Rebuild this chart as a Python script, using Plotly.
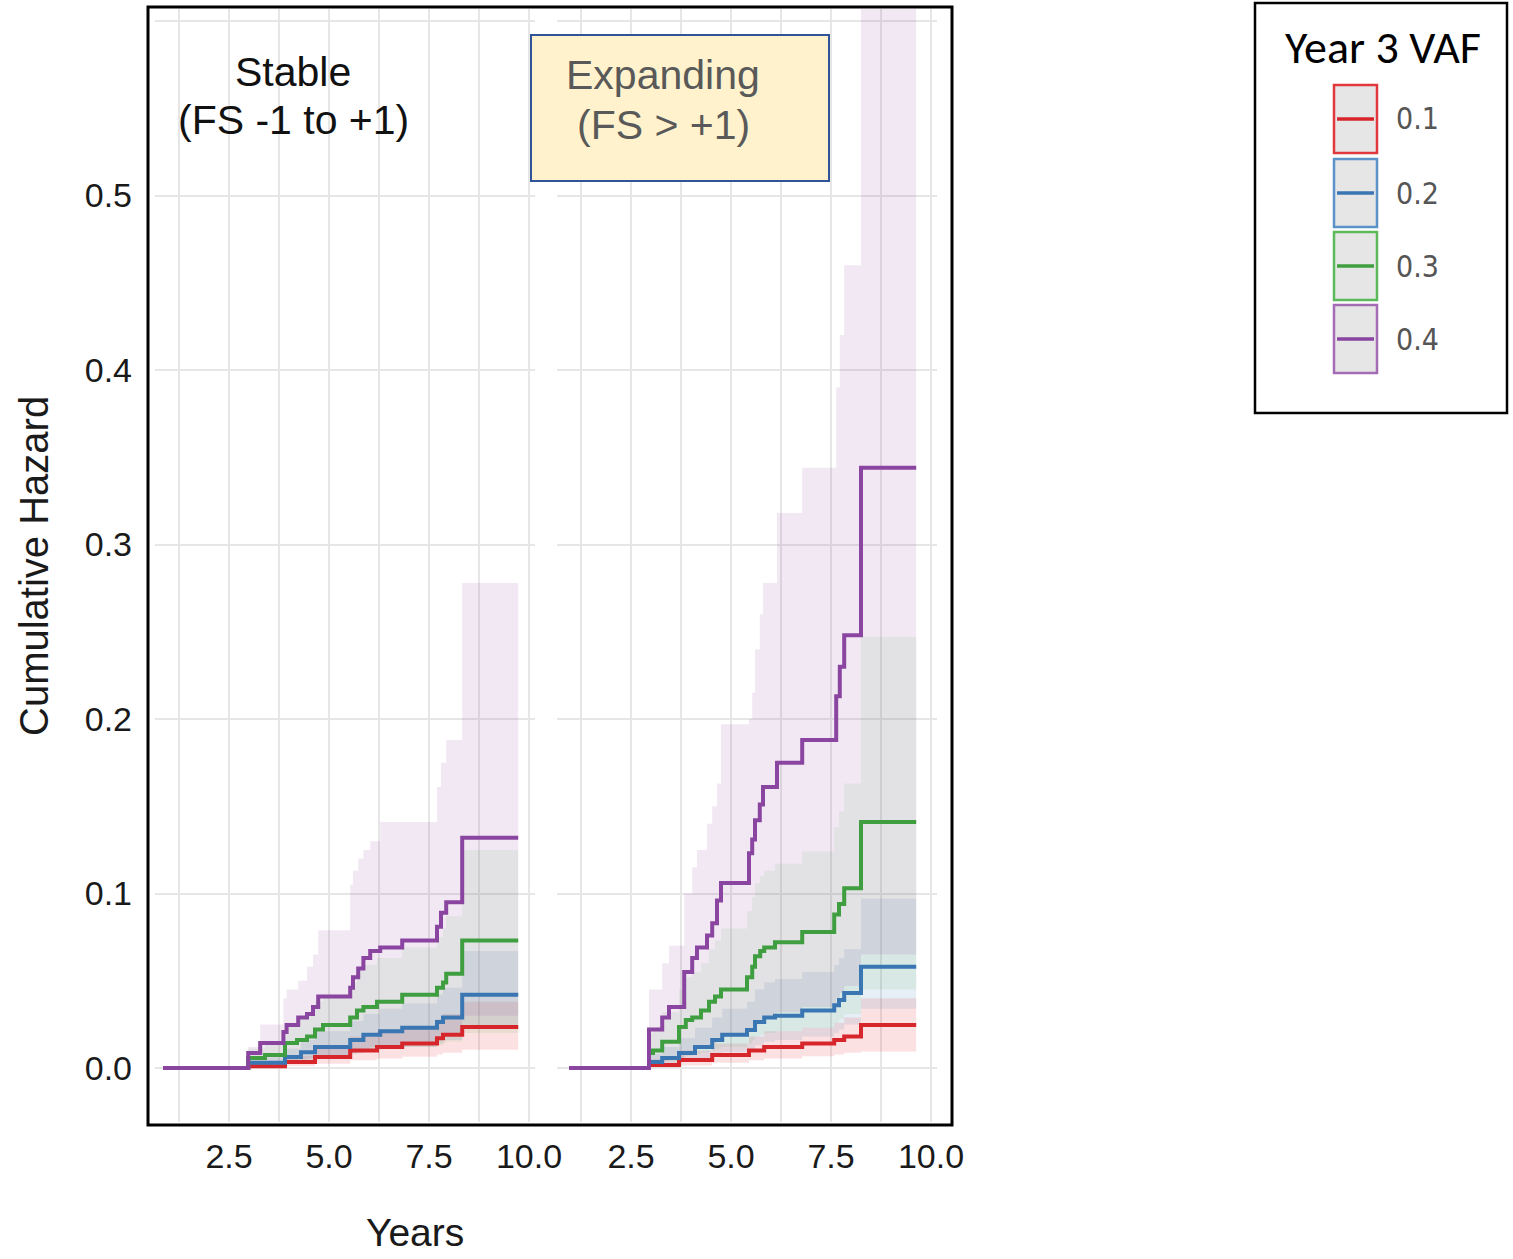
import plotly.graph_objects as go

W, H = 1513, 1259

# ---------------- data ----------------
VAF_LABELS = ["0.1", "0.2", "0.3", "0.4"]
LINE_COLORS = ["#D7262B", "#3A76B2", "#3F9E3F", "#8A45A0"]
RIBBON_COLORS = ["rgba(228,26,28,0.13)", "rgba(55,126,184,0.12)",
                 "rgba(77,175,74,0.10)", "rgba(152,78,163,0.13)"]
BORDER_COLORS = ["#E0383C", "#5B93C8", "#5DBA5A", "#A46CB5"]

PANELS = ["Stable", "Expanding"]

# Stable (FS -1 to +1)
st_t_01 = [0.85, 2.98, 3.9, 4.65, 5.53, 6.2, 6.83, 7.7, 7.85, 8.33, 9.73]
st_h_01 = [0, 0.001, 0.0034, 0.0063, 0.010, 0.012, 0.014, 0.017, 0.019, 0.0235, 0.0235]
st_u_01 = [0, 0.003, 0.007, 0.012, 0.018, 0.021, 0.024, 0.028, 0.031, 0.038, 0.038]
st_l_01 = [0, 0.0003, 0.0012, 0.0025, 0.0045, 0.0055, 0.0065, 0.0078, 0.0088, 0.0105, 0.0105]

st_t_02 = [0.85, 2.98, 3.9, 4.3, 4.65, 5.53, 5.86, 6.28, 6.83, 7.7, 7.85, 8.33, 9.73]
st_h_02 = [0, 0.003, 0.0063, 0.009, 0.012, 0.016, 0.019, 0.021, 0.023, 0.0264, 0.029, 0.042, 0.042]
st_u_02 = [0, 0.006, 0.011, 0.016, 0.021, 0.027, 0.031, 0.034, 0.037, 0.042, 0.046, 0.067, 0.067]
st_l_02 = [0, 0.0012, 0.003, 0.0045, 0.006, 0.0085, 0.01, 0.011, 0.012, 0.014, 0.016, 0.023, 0.023]

st_t_03 = [0.85, 2.98, 3.4, 3.9, 4.2, 4.45, 4.65, 4.85, 5.53, 5.7, 5.86, 6.2, 6.83, 7.7, 7.85, 7.93, 8.33, 9.73]
st_h_03 = [0, 0.0057, 0.0074, 0.0143, 0.016, 0.018, 0.022, 0.0246, 0.029, 0.033, 0.035, 0.038, 0.042, 0.046, 0.049, 0.054, 0.073, 0.073]
st_u_03 = [0, 0.011, 0.014, 0.026, 0.029, 0.032, 0.038, 0.042, 0.049, 0.056, 0.059, 0.063, 0.069, 0.075, 0.08, 0.087, 0.125, 0.125]
st_l_03 = [0, 0.0015, 0.002, 0.004, 0.0045, 0.005, 0.006, 0.007, 0.008, 0.009, 0.01, 0.011, 0.012, 0.013, 0.014, 0.015, 0.02, 0.02]

st_t_04 = [0.85, 2.98, 3.28, 3.86, 3.94, 4.23, 4.45, 4.6, 4.73, 5.53, 5.6, 5.73, 5.86, 6.03, 6.28, 6.83, 7.7, 7.8, 7.93, 8.33, 9.73]
st_h_04 = [0, 0.0086, 0.0143, 0.0206, 0.0246, 0.029, 0.031, 0.035, 0.041, 0.046, 0.052, 0.057, 0.063, 0.067, 0.069, 0.073, 0.081, 0.089, 0.095, 0.132, 0.132]
st_u_04 = [0, 0.012, 0.025, 0.04, 0.045, 0.05, 0.058, 0.065, 0.079, 0.105, 0.113, 0.12, 0.125, 0.13, 0.141, 0.141, 0.161, 0.175, 0.188, 0.278, 0.278]
st_l_04 = [0, 0.001, 0.002, 0.003, 0.004, 0.005, 0.0055, 0.006, 0.007, 0.008, 0.009, 0.01, 0.011, 0.012, 0.013, 0.014, 0.016, 0.018, 0.02, 0.03, 0.03]

# Expanding (FS > +1)
ex_t_01 = [0.95, 2.95, 3.7, 4.53, 5.45, 5.83, 6.78, 7.58, 7.83, 8.25, 9.63]
ex_h_01 = [0, 0.0017, 0.0046, 0.0074, 0.010, 0.012, 0.014, 0.016, 0.018, 0.0246, 0.0246]
ex_u_01 = [0, 0.005, 0.01, 0.014, 0.018, 0.021, 0.023, 0.026, 0.029, 0.04, 0.04]
ex_l_01 = [0, 0.0004, 0.0015, 0.003, 0.0045, 0.0055, 0.0068, 0.0078, 0.0088, 0.0095, 0.0095]

ex_t_02 = [0.95, 2.95, 3.28, 3.7, 4.1, 4.53, 4.78, 5.4, 5.6, 5.83, 6.1, 6.78, 7.58, 7.7, 7.83, 8.25, 9.63]
ex_h_02 = [0, 0.0034, 0.0057, 0.0086, 0.012, 0.016, 0.019, 0.0218, 0.0264, 0.029, 0.030, 0.033, 0.036, 0.039, 0.043, 0.058, 0.058]
ex_u_02 = [0, 0.008, 0.012, 0.017, 0.023, 0.029, 0.034, 0.038, 0.045, 0.049, 0.051, 0.055, 0.059, 0.063, 0.068, 0.097, 0.097]
ex_l_02 = [0, 0.0012, 0.0022, 0.0035, 0.005, 0.007, 0.009, 0.0105, 0.013, 0.015, 0.016, 0.018, 0.02, 0.022, 0.025, 0.034, 0.034]

ex_t_03 = [0.95, 2.95, 3.05, 3.28, 3.7, 3.87, 4.03, 4.25, 4.45, 4.6, 4.75, 5.4, 5.53, 5.6, 5.73, 5.83, 6.1, 6.78, 7.58, 7.7, 7.83, 8.25, 9.63]
ex_h_03 = [0, 0.0086, 0.010, 0.015, 0.0235, 0.0275, 0.029, 0.033, 0.038, 0.041, 0.045, 0.052, 0.058, 0.064, 0.067, 0.069, 0.072, 0.078, 0.088, 0.094, 0.103, 0.141, 0.141]
ex_u_03 = [0, 0.02, 0.023, 0.032, 0.045, 0.052, 0.055, 0.06, 0.068, 0.073, 0.08, 0.09, 0.098, 0.106, 0.11, 0.113, 0.117, 0.124, 0.138, 0.147, 0.163, 0.247, 0.247]
ex_l_03 = [0, 0.002, 0.0025, 0.0035, 0.006, 0.007, 0.008, 0.009, 0.01, 0.011, 0.012, 0.014, 0.016, 0.018, 0.019, 0.02, 0.021, 0.023, 0.026, 0.028, 0.031, 0.045, 0.045]

ex_t_04 = [0.95, 2.95, 3.28, 3.45, 3.83, 4.03, 4.15, 4.4, 4.53, 4.65, 4.75, 5.45, 5.53, 5.6, 5.72, 5.8, 6.15, 6.78, 7.63, 7.72, 7.83, 8.25, 9.63]
ex_h_04 = [0, 0.022, 0.029, 0.035, 0.055, 0.063, 0.069, 0.076, 0.083, 0.096, 0.106, 0.123, 0.131, 0.142, 0.151, 0.161, 0.175, 0.188, 0.213, 0.230, 0.248, 0.344, 0.344]
ex_u_04 = [0, 0.045, 0.06, 0.07, 0.10, 0.115, 0.125, 0.14, 0.15, 0.163, 0.197, 0.20, 0.215, 0.24, 0.26, 0.278, 0.318, 0.344, 0.39, 0.42, 0.46, 0.70, 0.70]
ex_l_04 = [0, 0.003, 0.004, 0.005, 0.008, 0.01, 0.011, 0.012, 0.014, 0.016, 0.018, 0.021, 0.023, 0.025, 0.027, 0.029, 0.032, 0.035, 0.04, 0.043, 0.047, 0.065, 0.065]

X_TICKS = [2.5, 5.0, 7.5, 10.0]
X_TICK_TEXT = ["2.5", "5.0", "7.5", "10.0"]
X_MINOR = [1.25, 3.75, 6.25, 8.75]
Y_TICKS = [0.0, 0.1, 0.2, 0.3, 0.4, 0.5, 0.6]
Y_TICK_TEXT = ["0.0", "0.1", "0.2", "0.3", "0.4", "0.5", ""]

stable = [(st_t_01, st_h_01, st_l_01, st_u_01), (st_t_02, st_h_02, st_l_02, st_u_02),
          (st_t_03, st_h_03, st_l_03, st_u_03), (st_t_04, st_h_04, st_l_04, st_u_04)]
expanding = [(ex_t_01, ex_h_01, ex_l_01, ex_u_01), (ex_t_02, ex_h_02, ex_l_02, ex_u_02),
             (ex_t_03, ex_h_03, ex_l_03, ex_u_03), (ex_t_04, ex_h_04, ex_l_04, ex_u_04)]


def fx(px):
    return px / W


def fy(py):
    return 1 - py / H


fig = go.Figure()

for panel, (xa, ya) in zip([stable, expanding], [("x", "y"), ("x2", "y2")]):
    # ribbons
    for i, (t, h, lo, up) in enumerate(panel):
        fig.add_trace(go.Scatter(x=t, y=lo, mode="lines", line=dict(width=0, shape="hv"),
                                 xaxis=xa, yaxis=ya, showlegend=False, hoverinfo="skip"))
        fig.add_trace(go.Scatter(x=t, y=up, mode="lines", line=dict(width=0, shape="hv"),
                                 fill="tonexty", fillcolor=RIBBON_COLORS[i],
                                 xaxis=xa, yaxis=ya, showlegend=False, hoverinfo="skip"))
    # lines
    for i, (t, h, lo, up) in enumerate(panel):
        fig.add_trace(go.Scatter(x=t, y=h, mode="lines",
                                 line=dict(width=4, shape="hv", color=LINE_COLORS[i]),
                                 xaxis=xa, yaxis=ya, name=VAF_LABELS[i], showlegend=False))

TICKFONT = dict(family="Liberation Sans, Arial, sans-serif", size=34, color="#1a1a1a")
GRID = "#E6E6E6"
ydom = [fy(1122), fy(9)]
yrng = [(1068 - 1122) / 1745, (1068 - 9) / 1745]

xcommon = dict(range=[0.65, 10.15], tickmode="array", tickvals=X_TICKS, ticktext=X_TICK_TEXT,
               showgrid=True, gridcolor=GRID, gridwidth=2, zeroline=False, showline=False,
               ticks="", ticklabelstandoff=11, tickfont=TICKFONT, automargin=False,
               minor=dict(tickmode="array", tickvals=X_MINOR, showgrid=True,
                          gridcolor=GRID, gridwidth=1.6))
ycommon = dict(range=yrng, domain=ydom, tickmode="array", tickvals=Y_TICKS, ticktext=Y_TICK_TEXT,
               showgrid=True, gridcolor=GRID, gridwidth=2, zeroline=False, showline=False,
               ticks="", automargin=False)

fig.update_layout(
    template="none",
    width=W, height=H, autosize=False, margin=dict(l=0, r=0, t=0, b=0, pad=0),
    paper_bgcolor="white", plot_bgcolor="white", showlegend=False,
    xaxis=dict(domain=[fx(155), fx(535)], anchor="y", **xcommon),
    xaxis2=dict(domain=[fx(557), fx(937)], anchor="y2", **xcommon),
    yaxis=dict(anchor="x", tickfont=TICKFONT, ticklabelstandoff=22, **ycommon),
    yaxis2=dict(anchor="x2", matches="y", showticklabels=False, **ycommon),
)

shapes = []
annotations = []

# outer frame
shapes.append(dict(type="rect", xref="paper", yref="paper", x0=fx(148), x1=fx(952),
                   y0=fy(1125), y1=fy(7), line=dict(color="black", width=3), layer="above"))

# Expanding box
shapes.append(dict(type="rect", xref="paper", yref="paper", x0=fx(531), x1=fx(829),
                   y0=fy(181), y1=fy(35), fillcolor="#FFF2CC",
                   line=dict(color="#2F5597", width=2), layer="above"))

PFONT = "Liberation Sans, Arial, sans-serif"
for txt, x, y, col in [("Stable", 293, 72, "#111111"), ("(FS -1 to +1)", 293, 120, "#111111"),
                       ("Expanding", 663, 75, "#595959"), ("(FS > +1)", 663, 125, "#595959")]:
    annotations.append(dict(text=txt, x=fx(x), y=fy(y), xref="paper", yref="paper",
                            showarrow=False, xanchor="center", yanchor="middle",
                            font=dict(family=PFONT, size=41, color=col)))

# axis titles
annotations.append(dict(text="Years", x=fx(415), y=fy(1232), xref="paper", yref="paper",
                        showarrow=False, xanchor="center", yanchor="middle",
                        font=dict(family=PFONT, size=39, color="#1a1a1a")))
annotations.append(dict(text="Cumulative Hazard", x=fx(34), y=fy(566), xref="paper", yref="paper",
                        showarrow=False, xanchor="center", yanchor="middle", textangle=-90,
                        font=dict(family=PFONT, size=40, color="#1a1a1a")))

# custom legend
shapes.append(dict(type="rect", xref="paper", yref="paper", x0=fx(1255), x1=fx(1507),
                   y0=fy(413), y1=fy(3), line=dict(color="black", width=2.5), fillcolor="white"))
annotations.append(dict(text="Year 3 VAF", x=fx(1383), y=fy(47), xref="paper", yref="paper",
                        showarrow=False, xanchor="center", yanchor="middle",
                        font=dict(family="Carlito, Lato, sans-serif", size=46, color="black")))
key_tops = [85, 159, 232, 305]
for i, lab in enumerate(VAF_LABELS):
    top = key_tops[i]
    bot = top + 68
    mid = (top + bot) / 2
    shapes.append(dict(type="rect", xref="paper", yref="paper", x0=fx(1334), x1=fx(1377),
                       y0=fy(bot), y1=fy(top), fillcolor="#E6E6E6",
                       line=dict(color=BORDER_COLORS[i], width=2.5)))
    shapes.append(dict(type="line", xref="paper", yref="paper", x0=fx(1337), x1=fx(1374),
                       y0=fy(mid), y1=fy(mid), line=dict(color=LINE_COLORS[i], width=3.5)))
    annotations.append(dict(text=lab, x=fx(1394), y=fy(mid), xref="paper", yref="paper",
                            showarrow=False, xanchor="left", yanchor="middle",
                            font=dict(family="Liberation Sans Narrow, DejaVu Sans Condensed, Roboto, sans-serif",
                                      size=30, color="#555555")))

fig.update_layout(shapes=shapes, annotations=annotations)

post = ("document.documentElement.style.margin='0px';"
        "document.body.style.margin='0px';document.body.style.padding='0px';"
        "document.body.style.overflow='hidden';"
        "var gd=document.getElementById('{plot_id}');"
        "gd.style.width='1513px';gd.style.height='1259px';"
        "Plotly.relayout(gd,{width:1513,height:1259});")
fig.write_html("out.html", config={"responsive": False, "displayModeBar": False},
               post_script=post)
